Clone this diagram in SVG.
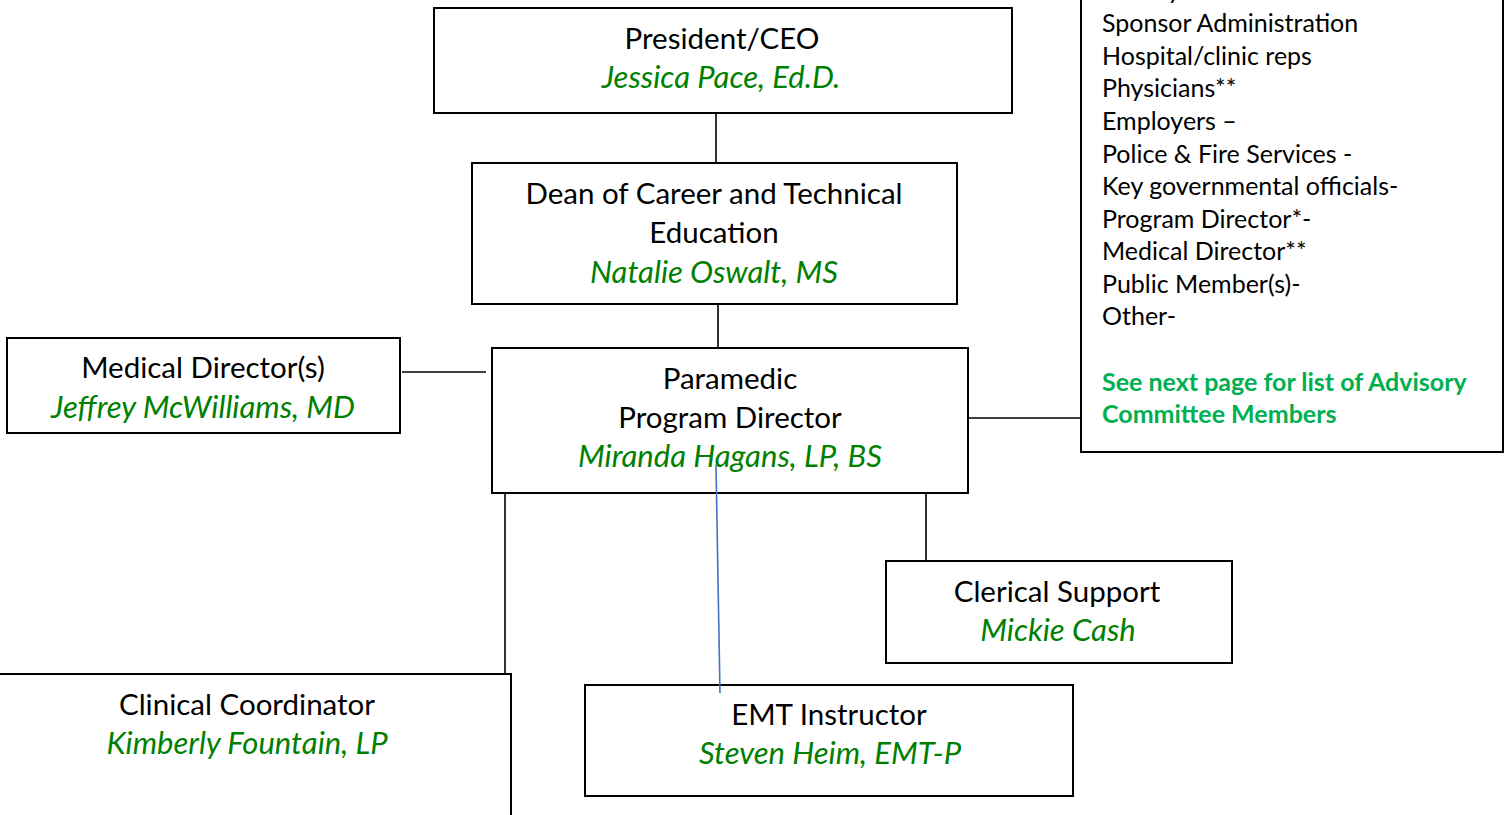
<svg xmlns="http://www.w3.org/2000/svg" width="1510" height="815" viewBox="0 0 1510 815">
<style>
.box{fill:#fff;stroke:#000;stroke-width:2}
.ln{stroke:#000;stroke-width:1.6;fill:none}
.t{font-family:Lato,"Liberation Sans",sans-serif;font-size:29.5px;fill:#000;text-anchor:middle}
.n{font-family:Lato,"Liberation Sans",sans-serif;font-size:31px;fill:#008000;font-style:italic;text-anchor:middle}
.l{font-family:Lato,"Liberation Sans",sans-serif;font-size:25px;fill:#000}
.g{font-family:Lato,"Liberation Sans",sans-serif;font-size:25px;fill:#00B050;font-weight:bold}
</style>
<rect width="1510" height="815" fill="#fff"/>
<g id="connectors">
<line class="ln" x1="716" y1="113" x2="716" y2="168"/>
<line class="ln" x1="718" y1="298" x2="718" y2="352"/>
<line class="ln" x1="402" y1="372" x2="486" y2="372"/>
<line class="ln" x1="963" y1="418" x2="1081" y2="418"/>
<line class="ln" x1="926" y1="493" x2="926" y2="561"/>
<line class="ln" x1="505" y1="493" x2="505" y2="674"/>
</g>
<g id="president">
<rect class="box" x="434" y="8" width="578" height="105"/>
<text class="t" x="722" y="49">President/CEO</text>
<text class="n" x="721" y="88">Jessica Pace, Ed.D.</text>
</g>
<g id="dean">
<rect class="box" x="472" y="163" width="485" height="141"/>
<text class="t" x="714" y="204">Dean of Career and Technical</text>
<text class="t" x="714" y="243">Education</text>
<text class="n" x="714" y="283">Natalie Oswalt, MS</text>
</g>
<g id="medical">
<rect class="box" x="7" y="338" width="393" height="95"/>
<text class="t" x="203" y="378">Medical Director(s)</text>
<text class="n" x="203" y="418">Jeffrey McWilliams, MD</text>
</g>
<g id="paramedic">
<rect class="box" x="492" y="348" width="476" height="145"/>
<text class="t" x="730" y="389">Paramedic</text>
<text class="t" x="730" y="428">Program Director</text>
<text class="n" x="730" y="467">Miranda Hagans, LP, BS</text>
</g>
<g id="advisory">
<rect class="box" x="1081" y="-20" width="422" height="472"/>
<text class="l" x="1102" y="-1">Faculty</text>
<text class="l" x="1102" y="32">Sponsor Administration</text>
<text class="l" x="1102" y="65">Hospital/clinic reps</text>
<text class="l" x="1102" y="97">Physicians**</text>
<text class="l" x="1102" y="130">Employers –</text>
<text class="l" x="1102" y="163">Police &amp; Fire Services -</text>
<text class="l" x="1102" y="195">Key governmental officials-</text>
<text class="l" x="1102" y="228">Program Director*-</text>
<text class="l" x="1102" y="260">Medical Director**</text>
<text class="l" x="1102" y="293">Public Member(s)-</text>
<text class="l" x="1102" y="325">Other-</text>
<text class="g" x="1102" y="391">See next page for list of Advisory</text>
<text class="g" x="1102" y="423">Committee Members</text>
</g>
<g id="clerical">
<rect class="box" x="886" y="561" width="346" height="102"/>
<text class="t" x="1057" y="602">Clerical Support</text>
<text class="n" x="1058" y="641">Mickie Cash</text>
</g>
<g id="clinical">
<rect class="box" x="-20" y="674" width="531" height="160"/>
<text class="t" x="247" y="715">Clinical Coordinator</text>
<text class="n" x="247" y="754">Kimberly Fountain, LP</text>
</g>
<g id="emt">
<rect class="box" x="585" y="685" width="488" height="111"/>
<text class="t" x="829" y="725">EMT Instructor</text>
<text class="n" x="830" y="764">Steven Heim, EMT-P</text>
</g>
<g id="blue-connector">
<line x1="716" y1="465" x2="720" y2="693" stroke="#4472C4" stroke-width="1.6"/>
</g>
</svg>
